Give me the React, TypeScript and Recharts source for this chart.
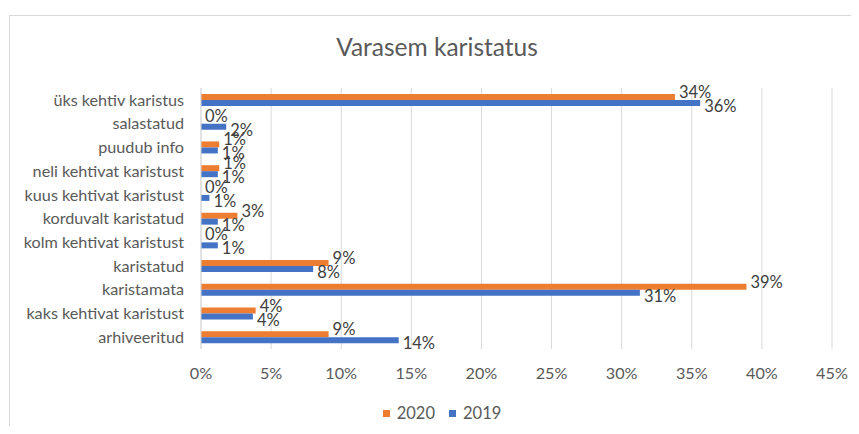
import React from "react";
import { BarChart, Bar, XAxis, YAxis, CartesianGrid, LabelList } from "recharts";

const categories = [
  "üks kehtiv karistus",
  "salastatud",
  "puudub info",
  "neli kehtivat karistust",
  "kuus kehtivat karistust",
  "korduvalt karistatud",
  "kolm kehtivat karistust",
  "karistatud",
  "karistamata",
  "kaks kehtivat karistust",
  "arhiveeritud",
];
const values2020 = [33.8, 0, 1.3, 1.3, 0, 2.6, 0, 9.1, 38.9, 3.9, 9.1];
const values2019 = [35.6, 1.8, 1.2, 1.2, 0.6, 1.2, 1.2, 8.0, 31.3, 3.7, 14.1];
const xTicks = [0, 5, 10, 15, 20, 25, 30, 35, 40, 45];

const data = categories.map((c, i) => ({ name: c, y2020: values2020[i], y2019: values2019[i] }));

const FONT = "Lato, 'Open Sans', sans-serif";
const ORANGE = "#ED7D31";
const BLUE = "#4472C4";

const makeLabel = (dy: number) => (props: any) => {
  const { x, y, width, height, value } = props;
  return (
    <text
      x={Number(x) + Number(width) + 4}
      y={Number(y) + Number(height) / 2 + dy}
      dominantBaseline="central"
      fill="#404040"
      fontSize={16.5}
      fontFamily={FONT}
    >
      {Math.round(Number(value)) + "%"}
    </text>
  );
};

export default function App() {
  return (
    <div style={{ position: "relative", width: 859, height: 434, margin: -8, overflow: "hidden", background: "#fff" }}>
      <div
        style={{
          position: "absolute",
          left: 9,
          top: 15,
          width: 860,
          height: 430,
          borderLeft: "1px solid #D9D9D9",
          borderTop: "1px solid #D9D9D9",
        }}
      />
      <div
        style={{
          position: "absolute",
          left: 287,
          width: 300,
          top: 32,
          lineHeight: "30px",
          textAlign: "center",
          fontFamily: FONT,
          fontSize: 24.5,
          color: "#595959",
          whiteSpace: "nowrap",
        }}
      >
        Varasem karistatus
      </div>
      <div style={{ position: "absolute", left: 0, top: 0 }}>
        <BarChart
          width={859}
          height={434}
          data={data}
          layout="vertical"
          margin={{ top: 88, right: 27, bottom: 55, left: 0 }}
          barGap={0}
          barSize={6}
        >
          <CartesianGrid horizontal={false} stroke="#D9D9D9" />
          <XAxis
            type="number"
            domain={[0, 45]}
            ticks={xTicks}
            tickFormatter={(v: number) => v + "%"}
            axisLine={false}
            tickLine={false}
            tickMargin={12}
            height={30}
            tick={{ fill: "#595959", fontSize: 16.2, fontFamily: FONT }}
            interval={0}
          />
          <YAxis
            type="category"
            dataKey="name"
            width={201}
            axisLine={{ stroke: "#D9D9D9" }}
            tickLine={false}
            tickMargin={11}
            interval={0}
            tick={{ fill: "#595959", fontSize: 16.2, fontFamily: FONT }}
          />
          <Bar dataKey="y2020" name="2020" fill={ORANGE} isAnimationActive={false} minPointSize={0.01}>
            <LabelList dataKey="y2020" content={makeLabel(-5)} />
          </Bar>
          <Bar dataKey="y2019" name="2019" fill={BLUE} isAnimationActive={false} minPointSize={0.01}>
            <LabelList dataKey="y2019" content={makeLabel(3)} />
          </Bar>
        </BarChart>
      </div>
      <div
        style={{
          position: "absolute",
          left: 0,
          width: 884,
          top: 402,
          display: "flex",
          justifyContent: "center",
          fontFamily: FONT,
          fontSize: 16.5,
          lineHeight: "22px",
          color: "#595959",
        }}
      >
        <span style={{ display: "flex", alignItems: "center", marginRight: 14 }}>
          <span style={{ width: 7, height: 7, background: ORANGE, display: "inline-block", marginRight: 7 }} />
          2020
        </span>
        <span style={{ display: "flex", alignItems: "center" }}>
          <span style={{ width: 7, height: 7, background: BLUE, display: "inline-block", marginRight: 7 }} />
          2019
        </span>
      </div>
    </div>
  );
}
